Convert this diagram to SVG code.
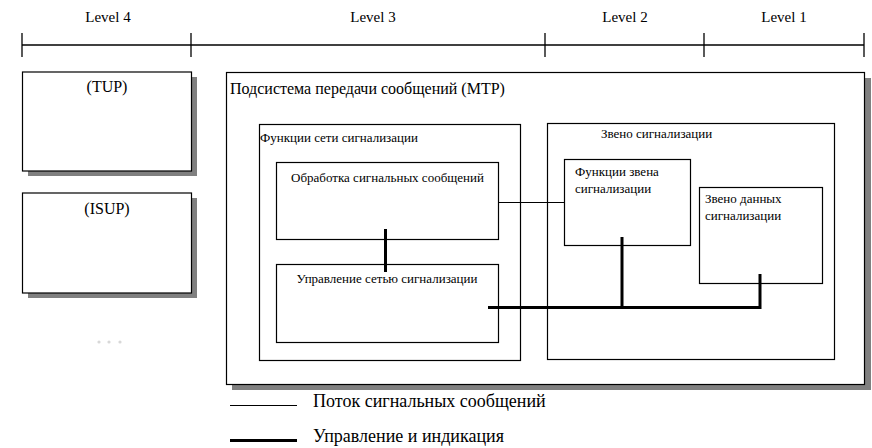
<svg xmlns="http://www.w3.org/2000/svg" width="872" height="448" viewBox="0 0 872 448">
<defs>
<style>
text { font-family: 'Liberation Serif', 'DejaVu Serif', serif; fill: #000000; }
.lvl { font-size: 15px; text-anchor: middle; }
.t13 { font-size: 13px; }
.t16 { font-size: 16px; }
.leg { font-size: 18px; }
.box { fill: #ffffff; stroke: #000000; stroke-width: 1.2; }
.shd { fill: #808080; stroke: none; }
.thin { stroke: #000000; stroke-width: 1; fill: none; }
.thick { stroke: #000000; stroke-width: 3; fill: none; }
.axis { stroke: #000000; stroke-width: 1.3; fill: none; }
</style>
</defs>
<rect width="872" height="448" fill="#ffffff"/>
<g id="levels">
  <line class="axis" x1="22" y1="45" x2="864" y2="45"/>
  <line class="axis" x1="22" y1="33" x2="22" y2="57"/>
  <line class="axis" x1="191" y1="33" x2="191" y2="57"/>
  <line class="axis" x1="545" y1="33" x2="545" y2="57"/>
  <line class="axis" x1="704" y1="33" x2="704" y2="57"/>
  <line class="axis" x1="864" y1="33" x2="864" y2="57"/>
  <text class="lvl" x="108" y="22">Level 4</text>
  <text class="lvl" x="373" y="22">Level 3</text>
  <text class="lvl" x="625" y="22">Level 2</text>
  <text class="lvl" x="784" y="22">Level 1</text>
</g>
<g id="tup">
  <rect class="shd" x="28" y="77" width="169" height="99"/>
  <rect class="box" x="22.5" y="72" width="169" height="99"/>
  <text class="t16" x="107" y="92" text-anchor="middle">(TUP)</text>
</g>
<g id="isup">
  <rect class="shd" x="28" y="198" width="169" height="100"/>
  <rect class="box" x="22.5" y="193" width="169" height="100"/>
  <text class="t16" x="107" y="214" text-anchor="middle">(ISUP)</text>
</g>
<g id="more" fill="#d8d8d8">
  <circle cx="99" cy="342" r="1.6"/>
  <circle cx="109" cy="342" r="1.6"/>
  <circle cx="120" cy="342" r="1.6"/>
</g>
<g id="mtp">
  <rect class="shd" x="232" y="78" width="639" height="312"/>
  <rect class="box" x="226.5" y="72.5" width="638" height="312"/>
  <text class="t16" x="230" y="94">Подсистема передачи сообщений (MTP)</text>
</g>
<g id="network-functions">
  <rect class="box" x="259.5" y="124.5" width="261" height="236"/>
  <text class="t13" x="260" y="142">Функции сети сигнализации</text>
</g>
<g id="message-handling">
  <rect class="box" x="276.5" y="162.5" width="222" height="77"/>
  <text class="t13" x="387.5" y="182" text-anchor="middle">Обработка сигнальных сообщений</text>
</g>
<g id="network-management">
  <rect class="box" x="276.5" y="264.5" width="222" height="78"/>
  <text class="t13" x="387" y="283" text-anchor="middle">Управление сетью сигнализации</text>
</g>
<g id="signalling-link">
  <rect class="box" x="547.5" y="123.5" width="287" height="236"/>
  <text class="t13" x="601" y="138">Звено сигнализации</text>
</g>
<g id="link-functions">
  <rect class="box" x="564.5" y="159.5" width="126" height="86"/>
  <text class="t13" x="575" y="176">Функции звена</text>
  <text class="t13" x="575" y="193">сигнализации</text>
</g>
<g id="data-link">
  <rect class="box" x="699.5" y="187.5" width="123" height="96"/>
  <text class="t13" x="705" y="203">Звено данных</text>
  <text class="t13" x="705" y="220">сигнализации</text>
</g>
<g id="connectors">
  <line class="thin" x1="498" y1="202.5" x2="564" y2="202.5"/>
  <line class="thick" x1="385.5" y1="229" x2="385.5" y2="272"/>
  <line class="thick" x1="488" y1="307.5" x2="761" y2="307.5"/>
  <line class="thick" x1="622" y1="237" x2="622" y2="307"/>
  <line class="thick" x1="760" y1="274" x2="760" y2="309"/>
</g>
<g id="legend">
  <line class="thin" x1="230" y1="405.5" x2="297" y2="405.5"/>
  <text class="leg" x="313" y="407">Поток сигнальных сообщений</text>
  <line class="thick" x1="230" y1="440.5" x2="297" y2="440.5"/>
  <text class="leg" x="313" y="442">Управление и индикация</text>
</g>
</svg>
